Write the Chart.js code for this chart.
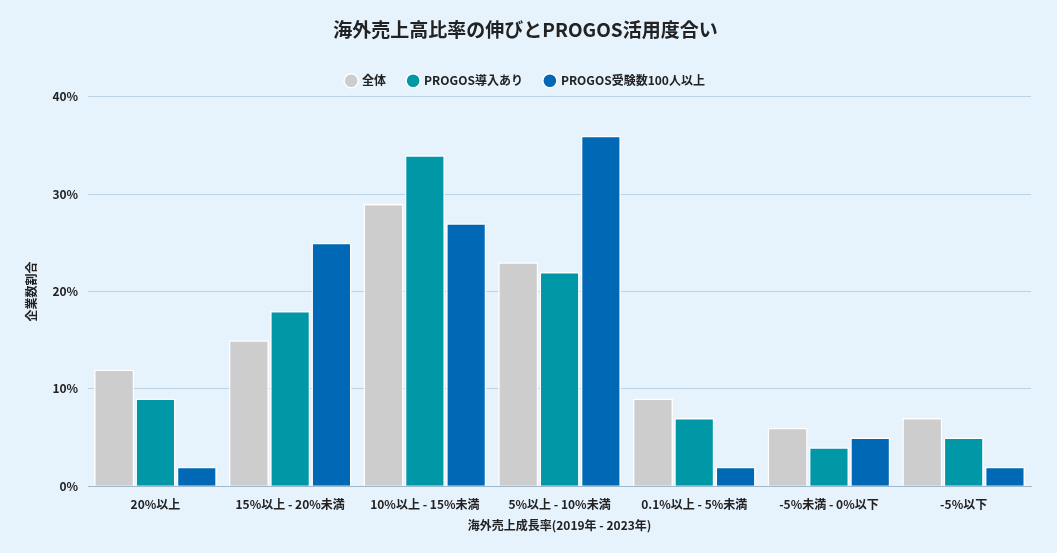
<!DOCTYPE html>
<html><head><meta charset="utf-8">
<script src="https://cdn.jsdelivr.net/npm/chart.js@4"></script>
<style>
html,body{margin:0;padding:0;background:#e6f2fc;}
#wrap{width:1057px;height:553px;}
</style></head>
<body><div id="wrap"><canvas id="c"></canvas></div>
<script>
const categories = ['20%以上','15%以上 - 20%未満','10%以上 - 15%未満','5%以上 - 10%未満','0.1%以上 - 5%未満','-5%未満 - 0%以下','-5%以下'];
const allCompanies = [12,15,29,23,9,6,7];
const progosUsed = [9,18,34,22,7,4,5];
const progos100 = [2,25,27,36,2,5,2];

Chart.defaults.font.family = '"Noto Sans CJK JP","Noto Sans",sans-serif';
Chart.defaults.color = '#222';

new Chart(document.getElementById('c'), {
  type: 'bar',
  data: {
    labels: categories,
    datasets: [
      { label: '全体', data: allCompanies, backgroundColor: '#cdcdcd' },
      { label: 'PROGOS導入あり', data: progosUsed, backgroundColor: '#0097a7' },
      { label: 'PROGOS受験数100人以上', data: progos100, backgroundColor: '#0068b5' }
    ].map(d => Object.assign(d, { borderColor: '#ffffff', borderWidth: 1.5, categoryPercentage: 0.92, barPercentage: 0.97 }))
  },
  options: {
    responsive: true,
    maintainAspectRatio: false,
    animation: false,
    layout: { padding: { left: 20, right: 26, top: 18, bottom: 16 } },
    plugins: {
      title: { display: true, text: '海外売上高比率の伸びとPROGOS活用度合い', font: { size: 19, weight: 'bold' }, color: '#222', padding: { bottom: 12 } },
      legend: { labels: { usePointStyle: true, pointStyle: 'circle', boxWidth: 10, boxHeight: 10, padding: 22, font: { size: 12, weight: 'bold' } } },
      tooltip: { enabled: false }
    },
    scales: {
      x: {
        grid: { display: false },
        border: { color: '#9fb8cc' },
        ticks: { font: { size: 12, weight: 'bold' } },
        title: { display: true, text: '海外売上成長率(2019年 - 2023年)', font: { size: 12, weight: 'bold' } }
      },
      y: {
        min: 0, max: 40,
        ticks: { stepSize: 10, callback: v => v + '%', font: { size: 12, weight: 'bold' }, padding: 10 },
        grid: { color: '#bcd3e6', drawTicks: false },
        border: { display: false },
        title: { display: true, text: '企業数割合', font: { size: 12, weight: 'bold' } }
      }
    }
  }
});
</script></body></html>
